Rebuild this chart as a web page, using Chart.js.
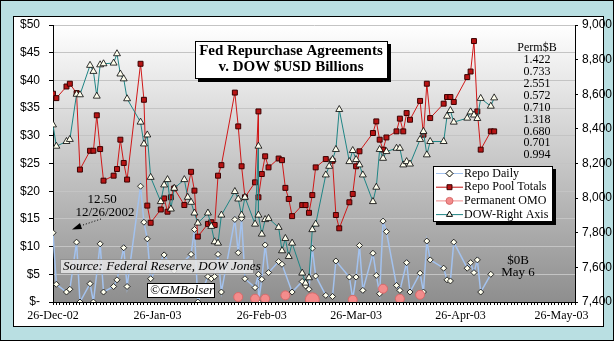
<!DOCTYPE html>
<html>
<head>
<meta charset="utf-8">
<script src="https://cdn.jsdelivr.net/npm/chart.js@4.4.1/dist/chart.umd.min.js"></script>
<style>
  html, body { margin: 0; padding: 0; background: #fff; }
</style>
</head>
<body>
<canvas id="repoChart" width="614" height="341"></canvas>
<script>
// x axis month labels
const monthTicks = ['2002-12-26', '2003-01-26', '2003-02-26', '2003-03-26', '2003-04-26', '2003-05-26'];
const monthLabels = ['26-Dec-02', '26-Jan-03', '26-Feb-03', '26-Mar-03', '26-Apr-03', '26-May-03'];
const xEnd = '2003-05-30';

// Permanent OMO amounts printed on the chart
const permValues = ['1.422', '0.733', '2.551', '0.572', '0.710', '1.318', '0.680', '0.701', '0.994'];

// Repo Pool Totals ($B)
const poolDates = ['2002-12-26','2002-12-27','2002-12-30','2002-12-31','2003-01-02','2003-01-03','2003-01-06','2003-01-07','2003-01-08','2003-01-09',
  '2003-01-10','2003-01-13','2003-01-14','2003-01-15','2003-01-16','2003-01-17','2003-01-21','2003-01-22','2003-01-23','2003-01-24',
  '2003-01-27','2003-01-28','2003-01-29','2003-01-30','2003-01-31','2003-02-03','2003-02-05','2003-02-06','2003-02-07','2003-02-10',
  '2003-02-11','2003-02-12','2003-02-13','2003-02-14','2003-02-18','2003-02-19','2003-02-20','2003-02-21','2003-02-24','2003-02-25',
  '2003-02-25','2003-02-26','2003-02-27','2003-02-28','2003-03-03','2003-03-04','2003-03-05','2003-03-06','2003-03-07','2003-03-10',
  '2003-03-11','2003-03-12','2003-03-13','2003-03-14','2003-03-17','2003-03-19','2003-03-20','2003-03-21','2003-03-24','2003-03-25',
  '2003-03-26','2003-03-27','2003-03-31','2003-04-01','2003-04-02','2003-04-03','2003-04-04','2003-04-07','2003-04-08','2003-04-09',
  '2003-04-10','2003-04-11','2003-04-14','2003-04-15','2003-04-16','2003-04-17','2003-04-21','2003-04-22','2003-04-23','2003-04-24',
  '2003-04-28','2003-04-29','2003-04-30','2003-05-01','2003-05-02','2003-05-05','2003-05-06'];
const poolValues = [37.6, 36.8, 38.9, 39.4, 37.7, 23.9, 27.3, 27.3, 33.7, 27.6,
  21.9, 22.8, 24.0, 29.3, 25.1, 22.1, 43.0, 36.5, 17.4, 14.3,
  16.7, 18.7, 16.3, 18.9, 20.5, 17.5, 23.5, 20.1, 11.8, 14.1,
  14.4, 13.9, 22.8, 24.7, 37.8, 31.7, 24.5, 18.9, 21.6, 34.4,
  18.9, 23.1, 26.3, 24.3, 25.9, 25.6, 20.6, 18.6, 15.5, 17.5,
  17.5, 16.1, 19.3, 24.3, 25.8, 25.5, 15.7, 13.3, 18.0, 19.5,
  24.5, 27.2, 30.5, 32.6, 29.3, 27.5, 29.7, 30.8, 33.1, 30.8,
  34.1, 32.9, 36.3, 30.2, 39.4, 33.2, 35.8, 37.0, 37.0, 36.1,
  40.6, 41.6, 47.1, 34.4, 27.5, 30.8, 30.8];

// Repo Daily ($B)
const dailyDates = ['2002-12-26','2002-12-27','2002-12-30','2002-12-31','2003-01-02','2003-01-03','2003-01-06','2003-01-07','2003-01-09','2003-01-10',
  '2003-01-13','2003-01-14','2003-01-16','2003-01-17','2003-01-21','2003-01-22','2003-01-23','2003-01-24','2003-01-28','2003-01-31',
  '2003-02-05','2003-02-06','2003-02-07','2003-02-10','2003-02-11','2003-02-12','2003-02-13','2003-02-14','2003-02-18','2003-02-19',
  '2003-02-20','2003-02-21','2003-02-24','2003-02-25','2003-02-25','2003-02-26','2003-02-27','2003-02-28','2003-03-03','2003-03-04',
  '2003-03-07','2003-03-10','2003-03-11','2003-03-12','2003-03-13','2003-03-14','2003-03-17','2003-03-19','2003-03-20','2003-03-24',
  '2003-03-25','2003-03-26','2003-03-27','2003-03-28','2003-03-31','2003-04-01','2003-04-02','2003-04-03','2003-04-04','2003-04-07',
  '2003-04-08','2003-04-10','2003-04-11','2003-04-14','2003-04-15','2003-04-16','2003-04-17','2003-04-21','2003-04-22','2003-04-23',
  '2003-04-24','2003-04-28','2003-04-29','2003-04-30','2003-05-01','2003-05-02','2003-05-05'];
const dailyValues = [12.5, 3.2, 1.8, 2.3, 10.8, 0, 3.3, 0, 10.5, 1.8,
  2.8, 4.0, 9.8, 2.8, 20.9, 14.4, 11.4, 4.2, 8.5, 5.6,
  8.6, 13.1, 0, 4.6, 4.2, 4.6, 8.6, 1.8, 14.9, 8.9,
  15.1, 4.2, 2.6, 5.0, 0, 4.1, 10.3, 5.3, 7.3, 6.8,
  1.8, 3.7, 2.9, 2.3, 9.7, 4.7, 1.2, 1.0, 7.4, 4.5,
  0.6, 4.5, 10.2, 2.1, 8.8, 4.8, 1.5, 14.6, 12.7, 3.0,
  2.1, 7.1, 1.8, 5.2, 1.8, 11.0, 7.6, 6.1, 4.0, 3.8,
  10.8, 6.1, 7.1, 5.3, 7.6, 1.8, 5.0];

// Permanent OMO markers ($B)
const omoDates = ['2003-02-19', '2003-02-24', '2003-02-27', '2003-03-05', '2003-03-13', '2003-03-25', '2003-04-03', '2003-04-08', '2003-04-14'];
const omoValues = [0.9, 0.6, 0.6, 1.2, 0.4, 0.4, 2.4, 0.6, 1.3];

// DOW close (right axis)
const dowDates = ['2002-12-26','2002-12-27','2002-12-30','2002-12-31','2003-01-02','2003-01-03','2003-01-06','2003-01-07','2003-01-08','2003-01-09',
  '2003-01-10','2003-01-13','2003-01-14','2003-01-15','2003-01-16','2003-01-17','2003-01-21','2003-01-22','2003-01-23','2003-01-24',
  '2003-01-27','2003-01-28','2003-01-29','2003-01-30','2003-01-31','2003-02-03','2003-02-04','2003-02-05','2003-02-06','2003-02-07',
  '2003-02-10','2003-02-11','2003-02-12','2003-02-13','2003-02-14','2003-02-18','2003-02-19','2003-02-20','2003-02-21','2003-02-24',
  '2003-02-25','2003-02-25','2003-02-26','2003-02-27','2003-02-28','2003-03-03','2003-03-04','2003-03-05','2003-03-06','2003-03-07',
  '2003-03-10','2003-03-11','2003-03-12','2003-03-13','2003-03-14','2003-03-17','2003-03-18','2003-03-19','2003-03-20','2003-03-21',
  '2003-03-24','2003-03-25','2003-03-26','2003-03-27','2003-03-28','2003-03-31','2003-04-01','2003-04-02','2003-04-03','2003-04-04',
  '2003-04-07','2003-04-08','2003-04-09','2003-04-10','2003-04-11','2003-04-14','2003-04-15','2003-04-16','2003-04-17','2003-04-21',
  '2003-04-22','2003-04-23','2003-04-24','2003-04-28','2003-04-29','2003-04-30','2003-05-01','2003-05-02','2003-05-05','2003-05-06'];
const dowValues = [8423, 8300, 8327, 8339, 8600, 8597, 8767, 8732, 8589, 8770,
  8776, 8780, 8834, 8717, 8689, 8574, 8439, 8313, 8365, 8120,
  7980, 8076, 8107, 7937, 8057, 8107, 8005, 7976, 7914, 7856,
  7914, 7837, 7748, 7740, 7902, 8038, 7995, 7902, 8005, 7850,
  8300, 7902, 7792, 7876, 7883, 7831, 7696, 7767, 7663, 7740,
  7567, 7509, 7540, 7818, 7850, 8134, 8184, 8223, 8281, 8512,
  8211, 8275, 8223, 8192, 8134, 7980, 8063, 8281, 8230, 8269,
  8288, 8288, 8192, 8211, 8197, 8339, 8385, 8250, 8327, 8327,
  8473, 8506, 8439, 8462, 8498, 8480, 8460, 8576, 8531, 8579];

const START = Date.UTC(2002, 11, 26);
function dayOf(s) {
  const p = s.split('-');
  return (Date.UTC(+p[0], +p[1] - 1, +p[2]) - START) / 86400000;
}
function points(dates, values) {
  return dates.map((d, i) => ({ x: dayOf(d), y: values[i] }));
}

const monthDays = monthTicks.map(dayOf);
const serif = 'Liberation Serif';
const sans = 'Liberation Sans';

// frame, gradient, text boxes and legend
const decor = {
  id: 'decor',
  beforeDraw(chart) {
    const ctx = chart.ctx, a = chart.chartArea;
    ctx.save();
    ctx.fillStyle = '#b9dfe2';
    ctx.fillRect(0, 0, 614, 341);
    ctx.strokeStyle = '#000';
    ctx.lineWidth = 1;
    ctx.strokeRect(0.5, 0.5, 613, 340);
    ctx.fillStyle = '#fff';
    ctx.fillRect(13.5, 16.5, 590, 310);
    ctx.strokeRect(13.5, 16.5, 590, 310);
    const g = ctx.createLinearGradient(0, a.top, 0, a.bottom);
    g.addColorStop(0, '#ffffff');
    g.addColorStop(1, '#8e8e8e');
    ctx.fillStyle = g;
    ctx.fillRect(a.left, a.top, a.right - a.left, a.bottom - a.top);
    ctx.restore();
  },
  afterDatasetsDraw(chart) {
    const ctx = chart.ctx;
    ctx.save();

    // title box
    ctx.fillStyle = '#000';
    ctx.fillRect(198, 44, 193, 38);
    ctx.fillStyle = '#fff';
    ctx.fillRect(195, 41, 193, 38);
    ctx.strokeStyle = '#000';
    ctx.lineWidth = 1;
    ctx.strokeRect(195.5, 41.5, 192, 37);
    ctx.fillStyle = '#000';
    ctx.font = 'bold 15px "' + serif + '"';
    ctx.textAlign = 'center';
    ctx.textBaseline = 'middle';
    ctx.fillText('Fed Repurchase Agreements', 291, 51);
    ctx.fillText('v. DOW $USD Billions', 291, 67);

    // Perm $B column
    ctx.font = '12px "' + serif + '"';
    ctx.fillText('Perm$B', 537, 48);
    permValues.forEach((v, i) => ctx.fillText(v, 537, 60 + i * 11.9));

    // first value note with arrow
    ctx.font = '13px "' + serif + '"';
    ctx.fillText('12.50', 102, 200);
    ctx.fillText('12/26/2002', 105, 212.5);
    ctx.setLineDash([1, 2]);
    ctx.beginPath();
    ctx.moveTo(101, 219);
    ctx.lineTo(80, 226);
    ctx.stroke();
    ctx.setLineDash([]);
    ctx.beginPath();
    ctx.moveTo(72, 229.5);
    ctx.lineTo(80, 223);
    ctx.lineTo(82, 229);
    ctx.closePath();
    ctx.fill();

    // last value note
    ctx.fillText('$0B', 518, 261);
    ctx.fillText('May 6', 518, 272.5);

    // source box
    ctx.fillStyle = 'rgba(232,232,232,0.85)';
    ctx.fillRect(60, 259, 194, 15);
    ctx.setLineDash([1, 1]);
    ctx.strokeStyle = '#444';
    ctx.strokeRect(60.5, 259.5, 193, 14);
    ctx.setLineDash([]);
    ctx.fillStyle = '#000';
    ctx.font = 'italic 13px "' + serif + '"';
    ctx.textAlign = 'left';
    ctx.fillText('Source: Federal Reserve, DOW Jones', 63, 267);

    // copyright box
    ctx.fillStyle = '#fff';
    ctx.fillRect(147, 283, 68, 15);
    ctx.strokeStyle = '#000';
    ctx.strokeRect(147.5, 283.5, 67, 14);
    ctx.fillStyle = '#000';
    ctx.fillText('\u00A9GMBolser', 150, 291);

    // legend
    ctx.fillStyle = '#000';
    ctx.fillRect(436, 169, 120, 56);
    ctx.fillStyle = '#fff';
    ctx.fillRect(433, 166, 120, 56);
    ctx.strokeRect(433.5, 166.5, 119, 55);
    ctx.font = '12px "' + serif + '"';
    chart.data.datasets.forEach((ds, row) => {
      const y = 173.5 + row * 13.7;
      ctx.strokeStyle = ds.legendLine;
      ctx.lineWidth = 1;
      ctx.beginPath();
      ctx.moveTo(436, y);
      ctx.lineTo(463, y);
      ctx.stroke();
      ctx.fillStyle = ds.pointBackgroundColor;
      ctx.strokeStyle = ds.pointBorderColor;
      Chart.helpers.drawPoint(ctx, { pointStyle: ds.pointStyle, radius: 3.5, borderWidth: 1, rotation: 0 }, 449.5, y);
      ctx.fillStyle = '#000';
      ctx.fillText(ds.label, 464, y);
    });
    ctx.restore();
  }
};

const ctx = document.getElementById('repoChart').getContext('2d');
new Chart(ctx, {
  type: 'line',
  data: {
    datasets: [
      {
        label: 'Repo Daily',
        data: points(dailyDates, dailyValues),
        yAxisID: 'y',
        borderColor: '#a3c2ee',
        legendLine: '#a3c2ee',
        borderWidth: 1.5,
        pointStyle: 'rectRot',
        pointRadius: 3,
        pointBackgroundColor: '#ffffee',
        pointBorderColor: '#000',
        pointBorderWidth: 0.8,
        order: 3
      },
      {
        label: 'Repo Pool Totals',
        data: points(poolDates, poolValues),
        yAxisID: 'y',
        borderColor: '#d01818',
        legendLine: '#c01010',
        borderWidth: 1,
        pointStyle: 'rect',
        pointRadius: 3.5,
        pointBackgroundColor: '#b81414',
        pointBorderColor: '#3a0000',
        pointBorderWidth: 1,
        order: 2
      },
      {
        label: 'Permanent OMO',
        data: points(omoDates, omoValues),
        yAxisID: 'y',
        showLine: false,
        legendLine: '#f08c8c',
        pointStyle: 'circle',
        pointRadius: [4.5, 4.5, 4.5, 4.5, 7, 4.5, 4.5, 4.5, 4.5],
        pointBackgroundColor: '#f38c8c',
        pointBorderColor: '#d86a6a',
        pointBorderWidth: 1,
        order: 1
      },
      {
        label: 'DOW-Right Axis',
        data: points(dowDates, dowValues),
        yAxisID: 'y2',
        borderColor: '#1f8585',
        legendLine: '#1f8585',
        borderWidth: 1,
        pointStyle: 'triangle',
        pointRadius: 4,
        pointBackgroundColor: '#ffffee',
        pointBorderColor: '#000',
        pointBorderWidth: 0.8,
        order: 0
      }
    ]
  },
  options: {
    responsive: false,
    animation: false,
    layout: { padding: { top: 25, left: 0, right: 0, bottom: 0 } },
    plugins: {
      legend: { display: false },
      tooltip: { enabled: false }
    },
    scales: {
      x: {
        type: 'linear',
        min: 0,
        max: dayOf(xEnd),
        afterBuildTicks: scale => {
          const t = [];
          for (let d = 0; d <= dayOf(xEnd); d++) t.push({ value: d });
          scale.ticks = t;
        },
        afterFit: scale => { scale.height = 39; },
        ticks: {
          autoSkip: false,
          maxRotation: 0,
          padding: 4,
          color: '#000',
          font: { family: serif, size: 12 },
          callback: v => {
            const i = monthDays.indexOf(v);
            return i >= 0 ? monthLabels[i] : '';
          }
        },
        grid: { drawOnChartArea: false, tickLength: 3, tickColor: '#000', color: '#000' },
        border: { color: '#000', width: 1 }
      },
      y: {
        position: 'left',
        min: 0,
        max: 50,
        afterFit: scale => { scale.width = 53; },
        ticks: {
          stepSize: 5,
          padding: 9,
          color: '#000',
          font: { family: sans, size: 12 },
          callback: v => v === 0 ? '$-' : '$' + v
        },
        grid: { color: '#c4c4c4', tickLength: 4, tickColor: '#000' },
        border: { color: '#000', width: 1 }
      },
      y2: {
        position: 'right',
        min: 7400,
        max: 9000,
        afterFit: scale => { scale.width = 39; },
        ticks: {
          stepSize: 200,
          padding: 4,
          color: '#000',
          font: { family: sans, size: 12 }
        },
        grid: { drawOnChartArea: false, tickLength: 3, tickColor: '#000' },
        border: { color: '#000', width: 1 }
      }
    }
  },
  plugins: [decor]
});
</script>
</body>
</html>
